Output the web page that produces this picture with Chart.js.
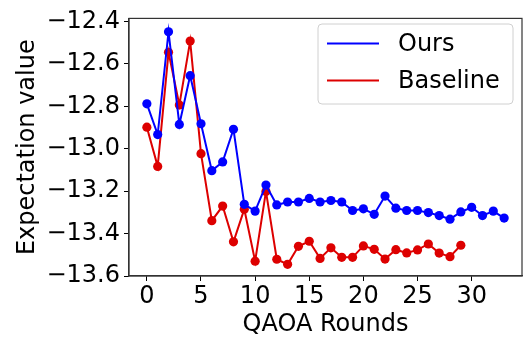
<!DOCTYPE html>
<html>
<head>
<meta charset="utf-8">
<script src="https://cdn.jsdelivr.net/npm/chart.js@4.4.0/dist/chart.umd.min.js"></script>
<style>
  html, body { margin: 0; padding: 0; background: #fff; }
  #wrap { width: 531px; height: 339px; position: relative; }
</style>
</head>
<body>
<div id="wrap"><canvas id="qaoaChart" width="531" height="339"></canvas></div>
<script>
// Data
const oursValues = [
    -12.788, -12.933, -12.448, -12.885, -12.655, -12.882, -13.103, -13.062, -12.908, -13.262,
    -13.294, -13.171, -13.265, -13.251, -13.251, -13.234, -13.251, -13.244, -13.251, -13.291,
    -13.283, -13.309, -13.223, -13.280, -13.291, -13.291, -13.301, -13.315, -13.332, -13.298,
    -13.276, -13.315, -13.294, -13.327
];
const baselineValues = [
    -12.898, -13.083, -12.545, -12.793, -12.492, -13.023, -13.339, -13.270, -13.439, -13.285,
    -13.530, -13.201, -13.521, -13.545, -13.460, -13.436, -13.517, -13.467, -13.512, -13.512,
    -13.458, -13.474, -13.520, -13.476, -13.491, -13.477, -13.449, -13.492, -13.509, -13.455
];
const seriesLabels = ['Ours', 'Baseline'];
const xTicks = [0, 5, 10, 15, 20, 25, 30];
const yTicks = [-13.6, -13.4, -13.2, -13.0, -12.8, -12.6, -12.4];

const FONT = 'DejaVu Sans';
const BLUE = '#0000ff';
const RED = '#dd0000';

function toPoints(values) {
    return values.map((v, i) => ({ x: i, y: v }));
}

// Full box around the plot + matplotlib-style legend
const framePlugin = {
    id: 'frame',
    afterDraw(chart) {
        const ctx = chart.ctx;
        const a = chart.chartArea;
        ctx.save();
        ctx.strokeStyle = '#333';
        ctx.lineWidth = 1.2;
        ctx.strokeRect(a.left, a.top, a.right - a.left, a.bottom - a.top);

        // legend box
        const bx = 318, by = 24, bw = 195, bh = 80, r = 4;
        ctx.beginPath();
        ctx.moveTo(bx + r, by);
        ctx.arcTo(bx + bw, by, bx + bw, by + bh, r);
        ctx.arcTo(bx + bw, by + bh, bx, by + bh, r);
        ctx.arcTo(bx, by + bh, bx, by, r);
        ctx.arcTo(bx, by, bx + bw, by, r);
        ctx.closePath();
        ctx.fillStyle = 'rgba(255,255,255,0.8)';
        ctx.fill();
        ctx.strokeStyle = '#d0d0d0';
        ctx.lineWidth = 1;
        ctx.stroke();

        const rows = [43.5, 80.5];
        chart.data.datasets.forEach((ds, i) => {
            ctx.beginPath();
            ctx.strokeStyle = ds.borderColor;
            ctx.lineWidth = 2;
            ctx.moveTo(327, rows[i]);
            ctx.lineTo(379, rows[i]);
            ctx.stroke();
            ctx.fillStyle = '#000';
            ctx.font = '24px "' + FONT + '"';
            ctx.textBaseline = 'middle';
            ctx.textAlign = 'left';
            ctx.fillText(ds.label, 398, rows[i] + 1);
        });
        ctx.restore();
    }
};

const ctx = document.getElementById('qaoaChart').getContext('2d');
const qaoaChart = new Chart(ctx, {
    type: 'line',
    data: {
        datasets: [
            {
                label: seriesLabels[0],
                data: toPoints(oursValues),
                borderColor: BLUE,
                backgroundColor: BLUE,
                borderWidth: 2,
                pointRadius: 4.6,
                pointBorderWidth: 0,
                tension: 0
            },
            {
                label: seriesLabels[1],
                data: toPoints(baselineValues),
                borderColor: RED,
                backgroundColor: RED,
                borderWidth: 2,
                pointRadius: 4.6,
                pointBorderWidth: 0,
                tension: 0
            }
        ]
    },
    options: {
        responsive: false,
        animation: false,
        layout: { padding: { top: 11, right: 9, left: 13, bottom: 0 } },
        plugins: {
            legend: { display: false },
            tooltip: { enabled: false }
        },
        scales: {
            x: {
                type: 'linear',
                min: -1.65,
                max: 34.65,
                afterBuildTicks: scale => { scale.ticks = xTicks.map(v => ({ value: v })); },
                afterFit: scale => { scale.height = 63; },
                grid: { drawOnChartArea: false, drawTicks: true, tickLength: 5, color: '#000' },
                border: { display: true, color: '#333', width: 1.2 },
                ticks: {
                    color: '#000',
                    font: { family: FONT, size: 24 },
                    padding: 1,
                    maxRotation: 0,
                    callback: v => String(v)
                },
                title: {
                    display: true,
                    text: 'QAOA Rounds',
                    color: '#000',
                    font: { family: FONT, size: 24 },
                    padding: { top: 0, bottom: 0 }
                }
            },
            y: {
                type: 'linear',
                min: -13.6,
                max: -12.385,
                afterBuildTicks: scale => { scale.ticks = yTicks.map(v => ({ value: v })); },
                afterFit: scale => { scale.width = 116; },
                grid: { drawOnChartArea: false, drawTicks: true, tickLength: 5, color: '#000' },
                border: { display: true, color: '#333', width: 1.2 },
                ticks: {
                    color: '#000',
                    font: { family: FONT, size: 24 },
                    padding: 4,
                    callback: v => v.toFixed(1).replace('-', '\u2212')
                },
                title: {
                    display: true,
                    text: 'Expectation value',
                    color: '#000',
                    font: { family: FONT, size: 24 },
                    padding: { top: 0, bottom: 0 }
                }
            }
        }
    },
    plugins: [framePlugin]
});
</script>
</body>
</html>
